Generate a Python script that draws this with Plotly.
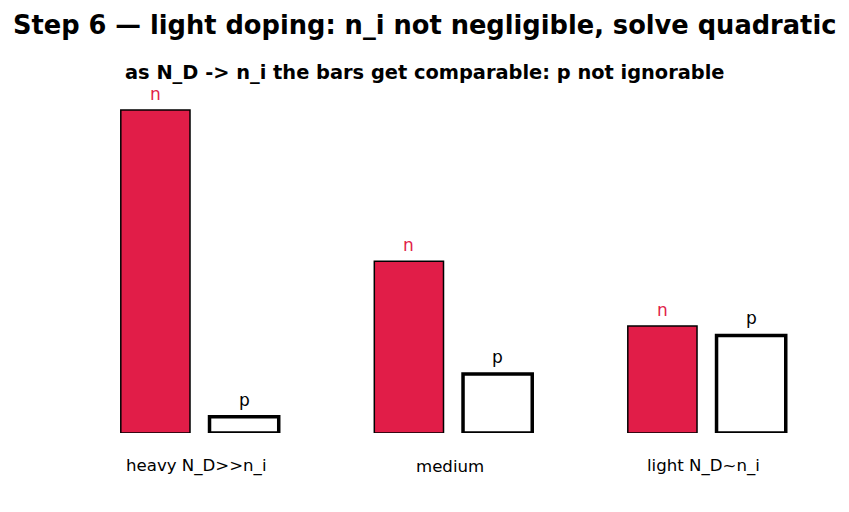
import plotly.graph_objects as go

categories = ["heavy N_D>>n_i", "medium", "light N_D~n_i"]
n_values = [1.0, 0.532, 0.331]
p_values = [0.05, 0.183, 0.302]
series_labels = ["n", "p"]

RED = "#e11d48"
group_x = list(range(len(categories)))
off = 0.175
bw = 0.273

fig = go.Figure()
fig.add_trace(go.Bar(
    x=[g - off for g in group_x], y=n_values, width=bw,
    marker=dict(color=RED, line=dict(color="black", width=1.5)),
    showlegend=False, hoverinfo="skip"))
fig.add_trace(go.Bar(
    x=[g + off for g in group_x], y=p_values, width=bw,
    marker=dict(color="white", line=dict(color="black", width=3.5)),
    showlegend=False, hoverinfo="skip"))

for g, v in zip(group_x, n_values):
    fig.add_annotation(x=g - off, y=v, xref="x", yref="y", text=series_labels[0],
                       showarrow=False, yanchor="bottom", yshift=4,
                       font=dict(size=17, family="DejaVu Sans", color=RED))
for g, v in zip(group_x, p_values):
    fig.add_annotation(x=g + off, y=v, xref="x", yref="y", text=series_labels[1],
                       showarrow=False, yanchor="bottom", yshift=5,
                       font=dict(size=17, family="DejaVu Sans", color="black"))

for g, c in zip(group_x, categories):
    fig.add_annotation(x=g, y=0, yref="y", xref="x", text=c, showarrow=False,
                       yshift=-33, xshift=-3.5,
                       font=dict(size=16.6, family="DejaVu Sans", color="black"))

fig.add_annotation(x=0.5, y=1, xref="paper", yref="paper", yanchor="middle",
                   text="<b>Step 6 — light doping: n_i not negligible, solve quadratic</b>",
                   showarrow=False, yshift=-26 + 90 + 1, xanchor="center",
                   font=dict(size=25.7, family="DejaVu Sans", color="black"))
fig.add_annotation(x=0.5, y=1, xref="paper", yref="paper", yanchor="middle",
                   text="<b>as N_D -> n_i the bars get comparable: p not ignorable</b>",
                   showarrow=False, yshift=-72 + 90, xanchor="center",
                   font=dict(size=19.4, family="DejaVu Sans", color="black"))

fig.update_layout(
    width=849, height=512,
    margin=dict(l=0, r=0, t=90, b=79),
    plot_bgcolor="white", paper_bgcolor="white",
    barmode="overlay",
    xaxis=dict(range=[-0.788, 2.561], visible=False),
    yaxis=dict(range=[0, 343 / 323], visible=False),
)
fig.write_html("out.html")
